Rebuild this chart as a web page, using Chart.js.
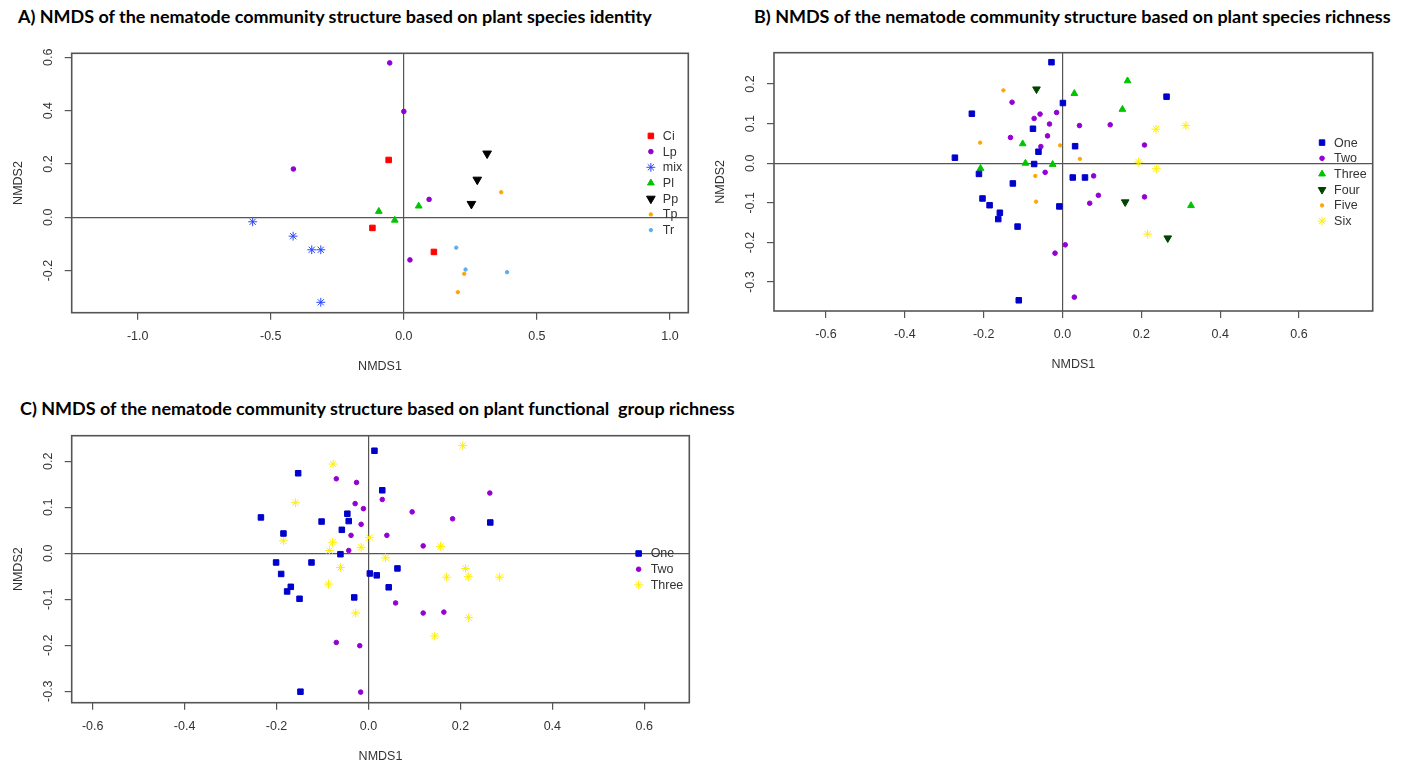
<!DOCTYPE html>
<html>
<head>
<meta charset="utf-8">
<script src="https://cdn.jsdelivr.net/npm/chart.js@4.4.1/dist/chart.umd.min.js"></script>
<style>
  html, body { margin: 0; padding: 0; background: #fff; }
  body { width: 1402px; height: 767px; position: relative; overflow: hidden; }
  .panel-title {
    position: absolute;
    font-family: Lato, "Open Sans", sans-serif;
    font-weight: 700;
    font-size: 15px;
    line-height: 1;
    color: #000;
    white-space: pre;
  }
  canvas { position: absolute; }
</style>
</head>
<body>
<div class="panel-title" id="titleA">A) NMDS of the nematode community structure based on plant species identity</div>
<div class="panel-title" id="titleB">B) NMDS of the nematode community structure based on plant species richness</div>
<div class="panel-title" id="titleC">C) NMDS of the nematode community structure based on plant functional  group richness</div>

<canvas id="chartA" width="700" height="350" style="left:0;top:30px"></canvas>
<canvas id="chartB" width="702" height="350" style="left:700px;top:30px"></canvas>
<canvas id="chartC" width="700" height="347" style="left:0;top:420px"></canvas>

<script>
// ---- data: [NMDS1, NMDS2] pairs ----

// A) plant species identity
const identityLabels = ['Ci', 'Lp', 'mix', 'Pl', 'Pp', 'Tp', 'Tr'];
const identityCi = [[-0.057, 0.215], [-0.118, -0.040], [0.113, -0.130]];
const identityLp = [[-0.053, 0.579], [0.000, 0.397], [-0.415, 0.181], [0.095, 0.067], [0.023, -0.160]];
const identityMix = [[-0.568, -0.017], [-0.416, -0.071], [-0.346, -0.122], [-0.312, -0.122], [-0.312, -0.319]];
const identityPl = [[-0.094, 0.022], [0.056, 0.042], [-0.034, -0.011]];
const identityPp = [[0.313, 0.239], [0.276, 0.141], [0.254, 0.050]];
const identityTp = [[0.366, 0.094], [0.227, -0.212], [0.203, -0.281]];
const identityTr = [[0.197, -0.114], [0.232, -0.196], [0.388, -0.206]];

// B) plant species richness
const richnessLabels = ['One', 'Two', 'Three', 'Four', 'Five', 'Six'];
const richnessOne = [[-0.028, 0.255], [0.264, 0.168], [0.001, 0.152], [-0.230, 0.125], [-0.075, 0.087],
  [-0.061, 0.029], [0.032, 0.043], [-0.273, 0.014], [-0.072, -0.002], [-0.212, -0.027], [0.026, -0.036],
  [0.057, -0.036], [-0.126, -0.051], [-0.203, -0.089], [-0.185, -0.106], [-0.159, -0.125], [-0.163, -0.141],
  [-0.008, -0.109], [-0.114, -0.160], [-0.111, -0.346]];
const richnessTwo = [[-0.128, 0.154], [-0.057, 0.124], [-0.072, 0.113], [-0.015, 0.128], [-0.033, 0.099],
  [0.043, 0.095], [0.121, 0.097], [-0.132, 0.065], [-0.038, 0.069], [-0.055, 0.042], [0.208, 0.046],
  [-0.044, -0.023], [0.079, -0.032], [0.091, -0.081], [0.069, -0.101], [0.208, -0.085], [0.007, -0.206],
  [-0.019, -0.227], [0.030, -0.338]];
const richnessThree = [[0.165, 0.208], [0.030, 0.176], [0.152, 0.136], [-0.101, 0.049], [-0.094, 0.000],
  [-0.025, -0.003], [-0.208, -0.013], [0.326, -0.107]];
const richnessFour = [[-0.066, 0.187], [0.159, -0.098], [0.267, -0.189]];
const richnessFive = [[-0.150, 0.184], [-0.209, 0.052], [-0.006, 0.045], [0.044, 0.011], [-0.069, -0.032], [-0.067, -0.097]];
const richnessSix = [[0.237, 0.086], [0.313, 0.095], [0.193, 0.003], [0.238, -0.014], [0.216, -0.179]];

// C) plant functional group richness
const groupLabels = ['One', 'Two', 'Three'];
const groupOne = [[0.013, 0.223], [-0.153, 0.174], [0.030, 0.137], [-0.234, 0.078], [-0.046, 0.086],
  [-0.043, 0.070], [-0.102, 0.069], [0.265, 0.067], [-0.185, 0.043], [-0.058, 0.051], [-0.061, -0.002],
  [-0.201, -0.020], [-0.124, -0.020], [0.063, -0.033], [-0.190, -0.045], [0.003, -0.044], [0.018, -0.048],
  [-0.169, -0.073], [-0.177, -0.083], [0.044, -0.074], [-0.150, -0.099], [-0.031, -0.096], [-0.148, -0.301]];
const groupTwo = [[-0.070, 0.162], [-0.026, 0.154], [0.264, 0.131], [0.030, 0.117], [-0.029, 0.108],
  [-0.011, 0.097], [0.095, 0.090], [0.183, 0.075], [-0.016, 0.063], [-0.038, 0.039], [0.040, 0.039],
  [0.119, 0.016], [-0.043, 0.006], [0.059, -0.108], [0.119, -0.130], [0.164, -0.128], [-0.070, -0.194],
  [-0.019, -0.201], [-0.017, -0.302]];
const groupThree = [[0.205, 0.234], [-0.077, 0.194], [-0.159, 0.110], [-0.185, 0.027], [-0.078, 0.024],
  [0.002, 0.034], [-0.085, 0.006], [-0.016, 0.013], [0.157, 0.015], [0.037, -0.010], [-0.061, -0.031],
  [0.211, -0.033], [0.170, -0.052], [0.217, -0.051], [0.285, -0.052], [-0.087, -0.067], [-0.028, -0.130],
  [0.218, -0.140], [0.144, -0.180]];

// ---- marker styles (R pch look) ----
const markers = {
  square:   { pointStyle: 'rect', radius: 3.9 },
  dot:      { pointStyle: 'circle', radius: 2.3 },
  smallDot: { pointStyle: 'circle', radius: 1.7 },
  star:     { pointStyle: 'star', radius: 4.4 },
  triUp:    { pointStyle: 'triangle', radius: 3.9 },
  triDown:  { pointStyle: 'triangle', radius: 5.0, rotation: 180 }
};

const FONT = '"Liberation Sans", Arial, sans-serif';
const FONT_SIZE = 12.5;
const TEXT_COLOR = '#333';
const LINE_COLOR = '#555';

Chart.defaults.font.family = FONT;
Chart.defaults.font.size = FONT_SIZE;
Chart.defaults.color = TEXT_COLOR;

function isZero(v) { return Math.abs(v) < 1e-9; }

// Box, rotated y tick labels and an R-style legend inside the plot region
const rPlot = {
  id: 'rPlot',
  afterDatasetsDraw(chart) {
    const { ctx, chartArea: a } = chart;
    ctx.save();

    // plot box
    ctx.strokeStyle = LINE_COLOR;
    ctx.lineWidth = 1.6;
    ctx.strokeRect(a.left, a.top, a.right - a.left, a.bottom - a.top);

    // y tick labels, parallel to the axis like R does
    const ys = chart.scales.y;
    ctx.font = FONT_SIZE + 'px ' + FONT;
    ctx.fillStyle = TEXT_COLOR;
    ctx.textAlign = 'center';
    ctx.textBaseline = 'middle';
    ys.ticks.forEach(t => {
      ctx.save();
      ctx.translate(a.left - 23.4, ys.getPixelForValue(t.value));
      ctx.rotate(-Math.PI / 2);
      ctx.fillText(t.value.toFixed(1), 0, 0);
      ctx.restore();
    });

    // legend, right side, vertically centred
    const sets = chart.data.datasets;
    const step = 15.7;
    const maxW = Math.max(...sets.map(d => ctx.measureText(d.label).width));
    const textX = a.right - 6 - maxW;
    const markX = textX - 12;
    let y = (a.top + a.bottom) / 2 - step * (sets.length - 1) / 2;
    sets.forEach(d => {
      ctx.fillStyle = d.pointBackgroundColor;
      ctx.strokeStyle = d.pointBorderColor;
      ctx.lineWidth = 1;
      Chart.helpers.drawPoint(ctx, {
        pointStyle: d.pointStyle, radius: d.pointRadius,
        rotation: d.pointRotation, borderWidth: 1
      }, markX, y);
      ctx.fillStyle = TEXT_COLOR;
      ctx.textAlign = 'left';
      ctx.fillText(d.label, textX, y + 0.5);
      y += step;
    });

    ctx.restore();
  }
};

function makeDataset(label, points, color, marker) {
  return {
    label: label,
    data: points.map(p => ({ x: p[0], y: p[1] })),
    pointStyle: marker.pointStyle,
    pointRadius: marker.radius,
    pointHoverRadius: marker.radius,
    pointRotation: marker.rotation || 0,
    pointBackgroundColor: color,
    pointBorderColor: color,
    pointBorderWidth: 1
  };
}

function axis(min, max, step, title, fit, isX) {
  return {
    type: 'linear',
    position: isX ? 'bottom' : 'left',
    min: min,
    max: max,
    ticks: {
      display: isX,
      stepSize: step,
      includeBounds: false,
      autoSkip: false,
      maxRotation: 0,
      padding: 9,
      color: TEXT_COLOR,
      callback: v => v.toFixed(1)
    },
    grid: {
      color: c => (c.tick && isZero(c.tick.value)) ? LINE_COLOR : 'rgba(0,0,0,0)',
      lineWidth: 1.2,
      tickColor: LINE_COLOR,
      tickWidth: 1.2,
      tickLength: 7
    },
    border: { display: false },
    title: { display: true, text: title, color: TEXT_COLOR, padding: 0, font: { size: FONT_SIZE } },
    afterFit: s => { if (isX) s.height = fit; else s.width = fit; }
  };
}

function makeChart(id, datasets, xr, yr, pad) {
  return new Chart(document.getElementById(id), {
    type: 'scatter',
    data: { datasets: datasets },
    options: {
      responsive: false,
      animation: false,
      events: [],
      layout: { padding: pad },
      plugins: { legend: { display: false }, tooltip: { enabled: false } },
      scales: {
        x: axis(xr[0], xr[1], xr[2], 'NMDS1', 61.2, true),
        y: axis(yr[0], yr[1], yr[2], 'NMDS2', 60.6, false)
      }
    },
    plugins: [rPlot]
  });
}

// A
makeChart('chartA', [
  makeDataset(identityLabels[0], identityCi, '#ff0000', markers.square),
  makeDataset(identityLabels[1], identityLp, '#9400d3', markers.dot),
  makeDataset(identityLabels[2], identityMix, '#2846ff', markers.star),
  makeDataset(identityLabels[3], identityPl, '#00c400', markers.triUp),
  makeDataset(identityLabels[4], identityPp, '#000000', markers.triDown),
  makeDataset(identityLabels[5], identityTp, '#ffa500', markers.smallDot),
  makeDataset(identityLabels[6], identityTr, '#5cacee', markers.smallDot)
], [-1.248, 1.069, 0.5], [-0.358, 0.615, 0.2],
  { left: 11.1, right: 11.7, top: 23.3, bottom: 6.1 });

// B
makeChart('chartB', [
  makeDataset(richnessLabels[0], richnessOne, '#0000cc', markers.square),
  makeDataset(richnessLabels[1], richnessTwo, '#9400d3', markers.dot),
  makeDataset(richnessLabels[2], richnessThree, '#00c400', markers.triUp),
  makeDataset(richnessLabels[3], richnessFour, '#004400', Object.assign({}, markers.triDown, { radius: 4.4 })),
  makeDataset(richnessLabels[4], richnessFive, '#ffa500', markers.smallDot),
  makeDataset(richnessLabels[5], richnessSix, '#ffee00', markers.star)
], [-0.732, 0.787, 0.2], [-0.373, 0.279, 0.1],
  { left: 13.4, right: 29.3, top: 22.7, bottom: 7.8 });

// C
makeChart('chartC', [
  makeDataset(groupLabels[0], groupOne, '#0000cc', markers.square),
  makeDataset(groupLabels[1], groupTwo, '#9400d3', markers.dot),
  makeDataset(groupLabels[2], groupThree, '#ffee00', markers.star)
], [-0.6457, 0.698, 0.2], [-0.325, 0.2557, 0.1],
  { left: 11.1, right: 10.7, top: 15.7, bottom: 3.1 });

// panel titles: size the font so title A spans its width in the figure
const tA = document.getElementById('titleA');
const fontPx = 15 * 634 / tA.getBoundingClientRect().width;
[['titleA', 18, 17], ['titleB', 754, 17], ['titleC', 20, 409]].forEach(([id, x, cy]) => {
  const el = document.getElementById(id);
  el.style.fontSize = fontPx + 'px';
  el.style.left = x + 'px';
  el.style.top = (cy - el.getBoundingClientRect().height / 2) + 'px';
});
</script>
</body>
</html>
